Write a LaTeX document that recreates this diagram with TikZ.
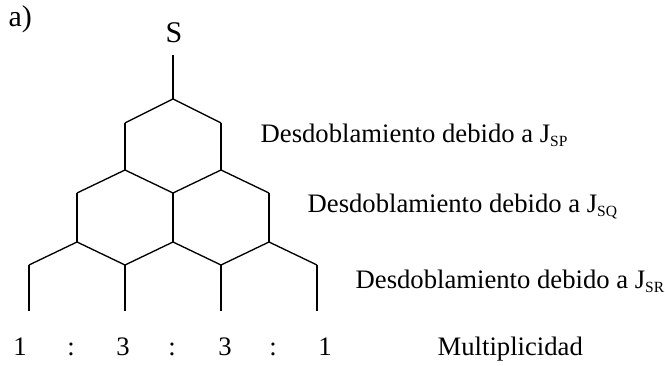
\documentclass[tikz,border=0pt]{standalone}
\usepackage{fontspec}
\setmainfont{Liberation Serif}
\newcommand{\Jsub}[1]{J\raisebox{-1.8pt}{\fontsize{7}{8}\selectfont #1}}
\begin{document}
\begin{tikzpicture}[
  x=0.45pt, y=-0.45pt,
  txt/.style={inner sep=0pt, font=\fontsize{12}{14}\selectfont},
  big/.style={inner sep=0pt, font=\fontsize{13.5}{16}\selectfont},
  lbl/.style={txt, anchor=base west},
  num/.style={txt, anchor=base},
  line width=0.6pt
]
  \useasboundingbox (0,0) rectangle (665,366);

  % Etiquetas
  \node[big, anchor=base west] (a) at (8,27) {a)};
  \node[big, anchor=base] (S) at (174,43) {S};

  % Vertices del arbol de desdoblamiento
  \coordinate (t0) at (173,55);
  \coordinate (v0) at (173,99);
  \coordinate (p1) at (125,123);  \coordinate (p2) at (221,123);
  \coordinate (q1) at (125,170);  \coordinate (q2) at (221,170);
  \coordinate (r1) at (77,193);   \coordinate (r2) at (173,193);  \coordinate (r3) at (269,193);
  \coordinate (u1) at (77,242);   \coordinate (u2) at (173,242);  \coordinate (u3) at (269,242);
  \coordinate (w1) at (29,265);   \coordinate (w2) at (125,265);
  \coordinate (w3) at (221,265);  \coordinate (w4) at (317,265);
  \coordinate (z1) at (29,311);   \coordinate (z2) at (125,311);
  \coordinate (z3) at (221,311);  \coordinate (z4) at (317,311);

  % J_SP
  \draw (t0) -- (v0);
  \draw (p1) -- (v0) -- (p2);
  \draw (p1) -- (q1); \draw (p2) -- (q2);
  % J_SQ
  \draw (r1) -- (q1) -- (r2) -- (q2) -- (r3);
  \draw (r1) -- (u1); \draw (r2) -- (u2); \draw (r3) -- (u3);
  % J_SR
  \draw (w1) -- (u1) -- (w2) -- (u2) -- (w3) -- (u3) -- (w4);
  \draw (w1) -- (z1); \draw (w2) -- (z2); \draw (w3) -- (z3); \draw (w4) -- (z4);

  \node[lbl] (dsp) at (260,143) {Desdoblamiento debido a \Jsub{SP}};
  \node[lbl] (dsq) at (307,213) {Desdoblamiento debido a \Jsub{SQ}};
  \node[lbl] (dsr) at (355,289) {Desdoblamiento debido a \Jsub{SR}};

  % Multiplicidad
  \node[num] (m1) at (20,356) {1};
  \node[num] (c1) at (71,356) {:};
  \node[num] (m2) at (123,356) {3};
  \node[num] (c2) at (172,356) {:};
  \node[num] (m3) at (225,356) {3};
  \node[num] (c3) at (273,356) {:};
  \node[num] (m4) at (325,356) {1};
  \node[lbl] (mult) at (437,356) {Multiplicidad};
\end{tikzpicture}
\end{document}
